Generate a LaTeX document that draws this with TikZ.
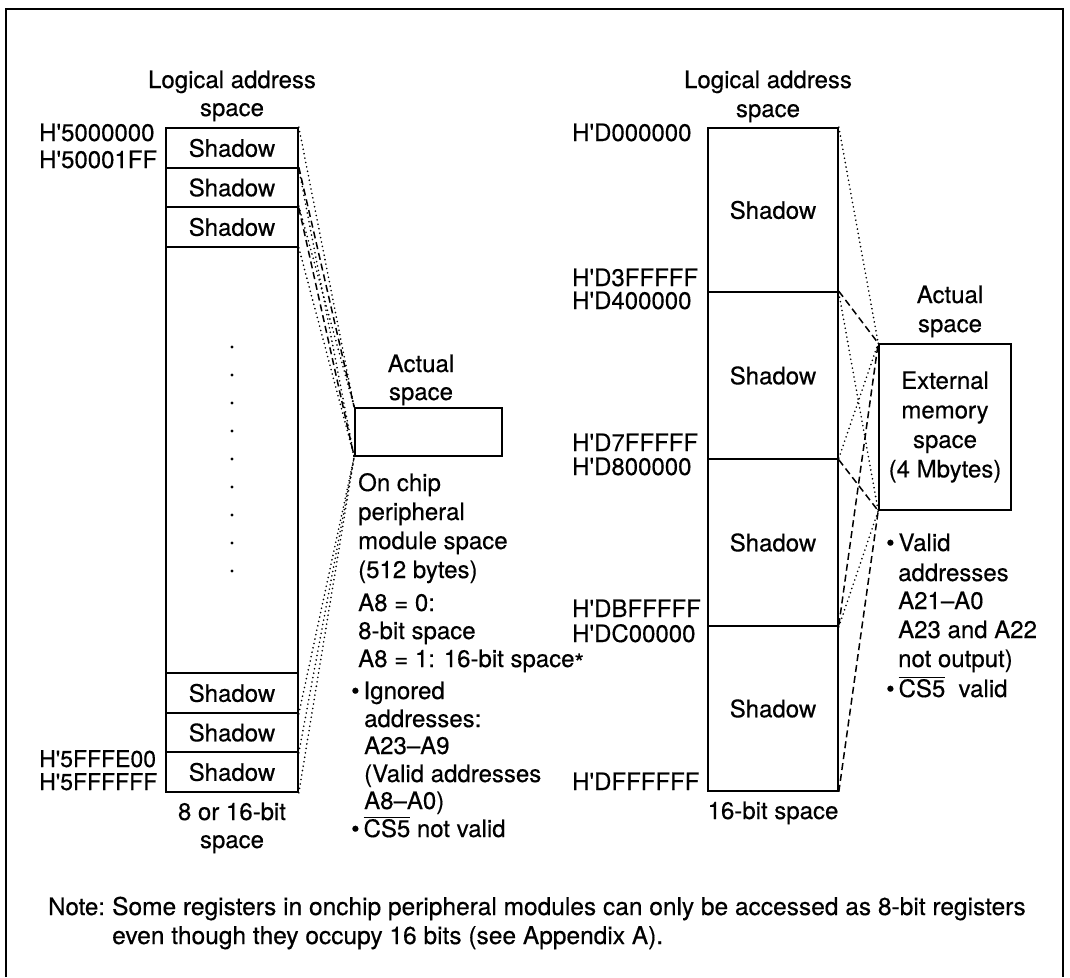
\documentclass[tikz,border=0pt]{standalone}
\usepackage{fontspec}
\setmainfont{TeX Gyre Heros}[FakeBold=0.4]
\newcommand{\csfive}{\(\overline{\hbox{CS5}}\)}
\newcommand{\hq}{H\textquotesingle}
\begin{document}
\begin{tikzpicture}[x=1pt,y=-1pt,
  font=\fontsize{24}{28}\selectfont,
  cell/.style={draw, line width=1.6pt, inner sep=0pt, minimum width=132pt},
  rcell/.style={draw, line width=1.6pt, inner sep=0pt, minimum width=130pt},
  txt/.style={inner sep=0pt, anchor=base west},
  ctxt/.style={inner sep=0pt, anchor=base},
  dotl/.style={line width=1.8pt, dash pattern=on 0pt off 4.5pt, line cap=round},
  dashl/.style={line width=1.5pt, dash pattern=on 7pt off 4pt},
  frame/.style={line width=1.6pt}
]
\useasboundingbox (0,0) rectangle (1070,977);
% frame
\draw[frame] (6,977) -- (6,9) -- (1063,9) -- (1063,977);

% ---------------- left column ----------------
\node[ctxt] (lh1) at (232,88) {Logical address};
\node[ctxt] (lh2) at (232,116) {space};
\node[cell, minimum height=40pt] (L1) at (232,148) {Shadow};
\node[cell, minimum height=39pt] (L2) at (232,187.5) {Shadow};
\node[cell, minimum height=40pt] (L3) at (232,227) {Shadow};
\node[cell, minimum height=426pt] (LM) at (232,460) {};
\node[cell, minimum height=40pt] (L4) at (232,693) {Shadow};
\node[cell, minimum height=39pt] (L5) at (232,732.5) {Shadow};
\node[cell, minimum height=40pt] (L6) at (232,772) {Shadow};
\foreach \i/\yy in {1/347,2/375,3/403,4/431,5/459,6/487,7/515,8/543,9/571}
  \fill (232,\yy) circle (1.7pt) coordinate (dot\i);

\node[txt] (la1) at (39,141) {\hq5000000};
\node[txt] (la2) at (39,168) {\hq50001FF};
\node[txt, font=\fontsize{23}{28}\selectfont] (la3) at (39,767) {\hq5FFFE00};
\node[txt, font=\fontsize{23}{28}\selectfont] (la4) at (39,790) {\hq5FFFFFF};
\node[ctxt] (lf1) at (232,820) {8 or 16-bit};
\node[ctxt] (lf2) at (232,848) {space};

% left actual space
\node[ctxt] (aa1) at (421,372) {Actual};
\node[ctxt] (aa2) at (421,400) {space};
\node[draw, line width=1.6pt, minimum width=147pt, minimum height=48pt, inner sep=0pt] (A1) at (428.5,432) {};

\node[txt] (m1) at (358,491) {On chip};
\node[txt] (m2) at (358,520) {peripheral};
\node[txt] (m3) at (358,549) {module space};
\node[txt] (m4) at (358,578) {(512 bytes)};
\node[txt] (m5) at (358,611) {A8 = 0:};
\node[txt] (m6) at (358,639) {8-bit space};
\node[txt] (m7) at (358,667) {A8 = 1: 16-bit space\raisebox{-4pt}{*}};
\node[txt] (m8) at (351,699) {\textbullet\,Ignored};
\node[txt] (m9) at (364,727) {addresses:};
\node[txt] (m10) at (364,754) {A23\textendash A9};
\node[txt] (m11) at (364,782) {(Valid addresses};
\node[txt] (m12) at (364,809) {A8\textendash A0)};
\node[txt] (m13) at (351,837) {\textbullet\,\csfive{} not valid};

% left connectors
\foreach \c/\s in {L1/dotl,L2/dashl,L3/dotl}{
  \draw[\s] (\c.north east) -- (A1.north west);
  \draw[\s] (\c.south east) -- (A1.south west);
}
\foreach \c in {L4,L5,L6}{
  \draw[dotl] (\c.south east) -- (A1.south west);
}

% ---------------- right column ----------------
\node[ctxt] (rh1) at (768,88) {Logical address};
\node[ctxt] (rh2) at (768,117) {space};
\node[rcell, minimum height=164pt] (R1) at (773,210) {Shadow};
\node[rcell, minimum height=167pt] (R2) at (773,375.5) {Shadow};
\node[rcell, minimum height=167pt] (R3) at (773,542.5) {Shadow};
\node[rcell, minimum height=165pt] (R4) at (773,708.5) {Shadow};

\node[txt] (ra1) at (572,141) {\hq D000000};
\node[txt] (ra2) at (572,286) {\hq D3FFFFF};
\node[txt] (ra3) at (572,309) {\hq D400000};
\node[txt] (ra4) at (572,451) {\hq D7FFFFF};
\node[txt] (ra5) at (572,475) {\hq D800000};
\node[txt] (ra6) at (572,617) {\hq DBFFFFF};
\node[txt] (ra7) at (572,642) {\hq DC00000};
\node[txt] (ra8) at (572,790) {\hq DFFFFFF};
\node[ctxt] (rf1) at (773,819) {16-bit space};

\node[ctxt] (ab1) at (950,303) {Actual};
\node[ctxt] (ab2) at (950,332) {space};
\node[draw, line width=1.6pt, minimum width=132pt, minimum height=166pt, inner sep=0pt,
      align=center, font=\fontsize{24}{29.5}\selectfont] (A2) at (945,427)
  {External\\memory\\space\\(4 Mbytes)};

\node[txt] (r1) at (886,551) {\textbullet\,Valid};
\node[txt] (r2) at (898,581) {addresses};
\node[txt] (r3) at (898,609) {A21\textendash A0};
\node[txt] (r4) at (898,638) {A23 and A22};
\node[txt] (r5) at (898,667) {not output)};
\node[txt] (r6) at (886,697) {\textbullet\,\csfive\ \ valid};

% right connectors
\foreach \c/\s in {R1/dotl,R2/dashl,R3/dotl,R4/dashl}{
  \draw[\s] (\c.north east) -- (A2.north west);
  \draw[\s] (\c.south east) -- (A2.south west);
}

% note
\node[txt] (n0) at (48,915) {Note:};
\node[txt, font=\fontsize{24.5}{28}\selectfont] (n1) at (112,915) {Some registers in onchip peripheral modules can only be accessed as 8-bit registers};
\node[txt, font=\fontsize{24.5}{28}\selectfont] (n2) at (112,944) {even though they occupy 16 bits (see Appendix A).};
\end{tikzpicture}
\end{document}
